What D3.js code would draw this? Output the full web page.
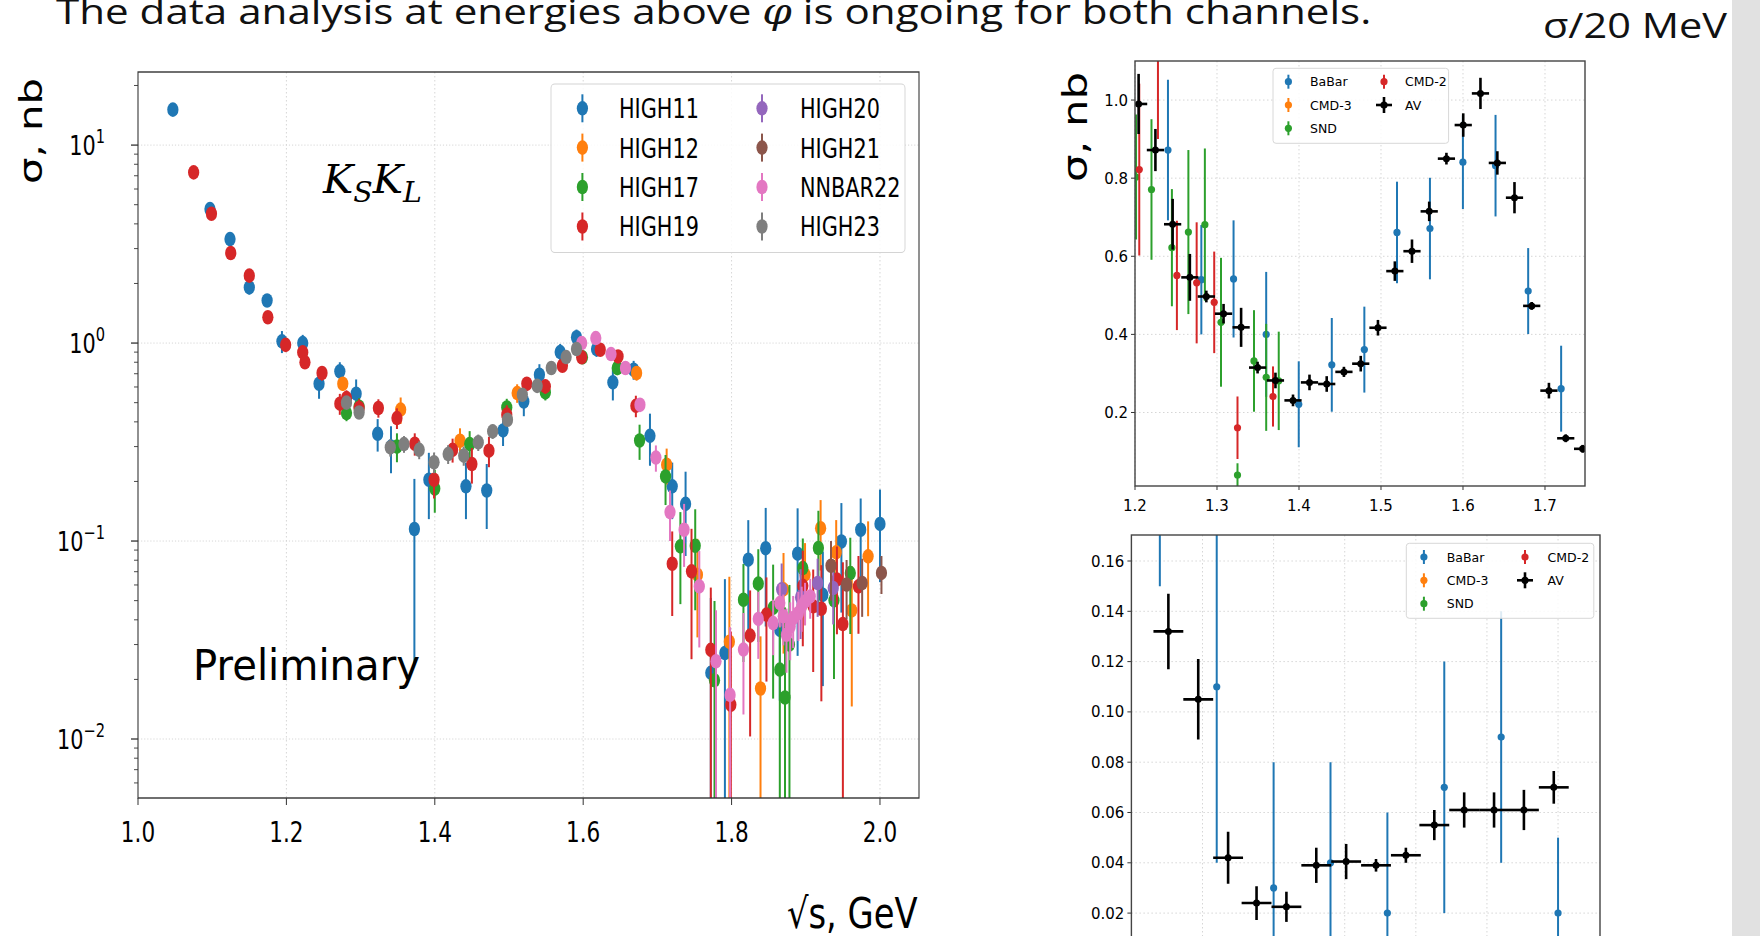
<!DOCTYPE html>
<html>
<head>
<meta charset="utf-8">
<script src="https://d3js.org/d3.v7.min.js"></script>
<style>
  body { margin: 0; background: #fff; }
  svg { display: block; font-family: "DejaVu Sans", sans-serif; }
</style>
</head>
<body>
<script>
// ---------- data: [sqrt(s) GeV, sigma nb, error] ----------
var high11 = [[1.047,15.1,0.4],[1.097,4.75,0.15],[1.124,3.35,0.12],[1.150,1.91,0.15],[1.174,1.64,0.1],
  [1.194,1.02,0.13],[1.222,1.0,0.1],[1.244,0.623,0.1],[1.272,0.72,0.08],[1.294,0.555,0.1],[1.323,0.348,0.065],
  [1.341,0.30,0.08],[1.3725,0.115,0.091],[1.392,0.204,0.075],[1.442,0.189,0.06],[1.470,0.18,0.065],
  [1.492,0.362,0.06],[1.520,0.507,0.08],[1.541,0.692,0.09],[1.569,0.90,0.09],[1.591,1.07,0.1],
  [1.618,0.932,0.08],[1.640,0.633,0.12],[1.668,0.733,0.08],[1.690,0.34,0.1],[1.720,0.189,0.06],
  [1.738,0.154,0.07],[1.772,0.0216,0.03],[1.791,0.0272,0.037],[1.8225,0.0805,0.047],[1.846,0.092,0.055],
  [1.865,0.0356,0.02],[1.889,0.0863,0.06],[1.923,0.0535,0.035],[1.948,0.0995,0.056],[1.974,0.114,0.05],
  [2.0,0.122,0.06]];
var high12 = [[1.276,0.623,0.05],[1.354,0.461,0.07],[1.434,0.321,0.05],[1.511,0.559,0.06],[1.672,0.706,0.06],
  [1.7125,0.243,0.05],[1.754,0.0676,0.035],[1.797,0.031,0.035],[1.839,0.018,0.015],[1.870,0.057,0.03],
  [1.899,0.0676,0.03],[1.920,0.116,0.045],[1.941,0.0876,0.04],[1.962,0.0446,0.03],[1.984,0.0837,0.042]];
var high17 = [[1.281,0.443,0.04],[1.298,0.477,0.05],[1.349,0.30,0.05],[1.400,0.184,0.045],[1.447,0.309,0.05],
  [1.497,0.473,0.05],[1.549,0.563,0.05],[1.599,0.848,0.06],[1.646,0.748,0.06],[1.676,0.322,0.065],
  [1.711,0.212,0.06],[1.731,0.094,0.046],[1.751,0.0947,0.05],[1.777,0.0198,0.03],[1.816,0.0505,0.026],
  [1.836,0.0609,0.03],[1.856,0.046,0.03],[1.865,0.0224,0.03],[1.872,0.0162,0.03],[1.878,0.03,0.03],
  [1.896,0.073,0.03],[1.917,0.0922,0.05],[1.938,0.0501,0.03],[1.960,0.0689,0.035]];
var high19 = [[1.075,7.28,0.2],[1.099,4.50,0.15],[1.125,2.85,0.1],[1.150,2.19,0.08],[1.175,1.35,0.07],
  [1.199,0.98,0.08],[1.222,0.897,0.06],[1.225,0.80,0.06],[1.248,0.706,0.06],[1.272,0.494,0.06],
  [1.281,0.527,0.05],[1.298,0.47,0.05],[1.324,0.47,0.05],[1.349,0.418,0.05],[1.373,0.31,0.04],
  [1.399,0.204,0.04],[1.424,0.289,0.04],[1.450,0.245,0.05],[1.473,0.286,0.05],[1.497,0.435,0.05],
  [1.524,0.623,0.05],[1.549,0.604,0.05],[1.572,0.768,0.05],[1.598,0.848,0.06],[1.623,0.925,0.06],
  [1.647,0.856,0.06],[1.671,0.482,0.06],[1.720,0.0768,0.035],[1.746,0.0703,0.045],[1.772,0.0282,0.03],
  [1.799,0.0149,0.02],[1.825,0.0333,0.023],[1.847,0.0425,0.023],[1.896,0.0594,0.03],[1.910,0.0468,0.025],
  [1.921,0.0455,0.03],[1.942,0.0638,0.03],[1.950,0.0381,0.04],[1.971,0.059,0.025]];
var high20 = [[1.8675,0.057,0.02],[1.893,0.052,0.02],[1.916,0.0614,0.02],[1.937,0.0579,0.02]];
var high21 = [[1.934,0.075,0.025],[1.955,0.0602,0.02],[1.976,0.0614,0.02],[2.002,0.069,0.015]];
var nnbar22 = [[1.598,1.0,0.05],[1.617,1.06,0.05],[1.6375,0.88,0.05],[1.657,0.748,0.05],[1.6765,0.488,0.04],
  [1.698,0.264,0.04],[1.717,0.14,0.04],[1.736,0.114,0.04],[1.7565,0.059,0.03],[1.779,0.0247,0.02],
  [1.798,0.0167,0.02],[1.816,0.0283,0.015],[1.836,0.0404,0.015],[1.856,0.0385,0.012],[1.865,0.0486,0.012],
  [1.8697,0.0417,0.012],[1.874,0.0336,0.012],[1.879,0.037,0.012],[1.883,0.0408,0.012],[1.890,0.0433,0.012],
  [1.8945,0.0468,0.012],[1.899,0.0495,0.012],[1.906,0.0525,0.012]];
var high23 = [[1.281,0.50,0.03],[1.298,0.446,0.03],[1.340,0.297,0.03],[1.3585,0.309,0.03],[1.379,0.289,0.03],
  [1.399,0.25,0.03],[1.418,0.275,0.03],[1.439,0.27,0.03],[1.4586,0.315,0.03],[1.478,0.358,0.03],
  [1.498,0.41,0.03],[1.518,0.548,0.04],[1.538,0.608,0.04],[1.557,0.748,0.04],[1.577,0.85,0.04],
  [1.591,0.933,0.04]];

var seriesNames  = ["HIGH11","HIGH12","HIGH17","HIGH19","HIGH20","HIGH21","NNBAR22","HIGH23"];
var seriesColors = ["#1f77b4","#ff7f0e","#2ca02c","#d62728","#9467bd","#8c564b","#e377c2","#7f7f7f"];
var seriesData   = [high11, high12, high17, high19, high20, high21, nnbar22, high23];

// right charts (20 MeV averaging)
var babarTop = [[1.2402,0.872,0.18],[1.2809,0.54,0.14],[1.3202,0.542,0.15],[1.36,0.40,0.16],[1.3997,0.221,0.11],
  [1.44,0.322,0.12],[1.4797,0.361,0.11],[1.5195,0.661,0.13],[1.5597,0.671,0.13],[1.5999,0.841,0.12],
  [1.6397,0.832,0.13],[1.6795,0.511,0.11],[1.7197,0.261,0.11]];
var cmd3Top = [];
var sndTop = [[1.2013,0.803,0.16],[1.2201,0.771,0.18],[1.245,0.622,0.15],[1.2651,0.662,0.21],[1.2852,0.681,0.195],
  [1.3049,0.431,0.165],[1.325,0.04,0.03],[1.3451,0.332,0.13],[1.36,0.29,0.137],[1.3753,0.281,0.126]];
var cmd2Top = [[1.2052,0.822,0.22],[1.228,1.25,0.35],[1.2511,0.551,0.14],[1.2752,0.532,0.155],[1.2966,0.482,0.13],
  [1.325,0.161,0.08],[1.3683,0.241,0.077]];
var avTop = [[1.2044,0.990,0.077],[1.2249,0.872,0.054],[1.2459,0.682,0.065],[1.2669,0.546,0.06],[1.287,0.497,0.015],
  [1.308,0.453,0.025],[1.3294,0.418,0.05],[1.3495,0.315,0.015],[1.3713,0.282,0.02],[1.3927,0.231,0.015],
  [1.4128,0.277,0.02],[1.4338,0.273,0.02],[1.4548,0.304,0.013],[1.4753,0.325,0.02],[1.4963,0.417,0.02],
  [1.5169,0.562,0.025],[1.5378,0.613,0.03],[1.5588,0.715,0.025],[1.5798,0.85,0.015],[1.6003,0.936,0.03],
  [1.6213,1.017,0.04],[1.6419,0.839,0.03],[1.6628,0.75,0.04],[1.6838,0.473,0.01],[1.7048,0.256,0.02],
  [1.7253,0.134,0.01],[1.7459,0.107,0.01]];

var babarBot = [[1.770,0.19,0.04],[1.810,0.11,0.07],[1.850,0.03,0.05],[1.890,0.04,0.04],[1.930,0.02,0.04],
  [1.970,0.07,0.05],[2.010,0.09,0.05],[2.050,0.02,0.03]];
var avBot = [[1.776,0.132,0.015],[1.797,0.105,0.016],[1.818,0.042,0.0103],[1.838,0.024,0.0067],[1.859,0.0225,0.006],
  [1.880,0.039,0.007],[1.901,0.0405,0.007],[1.922,0.039,0.0025],[1.943,0.043,0.003],[1.963,0.055,0.006],
  [1.984,0.061,0.007],[2.005,0.061,0.007],[2.026,0.061,0.008],[2.047,0.070,0.0065]];
var avHalfBin = 0.0105;

var rightNames  = ["BaBar","CMD-3","SND","CMD-2","AV"];
var rightColors = ["#1f77b4","#ff7f0e","#2ca02c","#d62728","#000000"];

var leftXTicks = [1.0,1.2,1.4,1.6,1.8,2.0];
var leftDecades = [-2,-1,0,1];
var topXTicks = [1.2,1.3,1.4,1.5,1.6,1.7];
var topYTicks = [0.2,0.4,0.6,0.8,1.0];
var botXTicks = [1.80,1.85,1.90,1.95,2.00,2.05];
var botYTicks = [0.02,0.04,0.06,0.08,0.10,0.12,0.14,0.16];

// ---------- setup ----------
var W = 1760, H = 936;
var svg = d3.select("body").append("svg").attr("width", W).attr("height", H);
var defs = svg.append("defs");

function fitWidth(t, w) {
  var b = t.node().getBBox(), k = w / b.width;
  t.attr("transform", "translate(" + b.x + ",0) scale(" + k + ",1) translate(" + (-b.x) + ",0)");
}

function clip(id, x, y, w, h) {
  defs.append("clipPath").attr("id", id).append("rect").attr("x", x).attr("y", y).attr("width", w).attr("height", h);
  return "url(#" + id + ")";
}

function errSeries(g, data, color, x, y, r, sw, yMin, yMax, xerr) {
  var s = g.append("g");
  if (xerr) {
    s.selectAll("line.h").data(data).enter().append("line").attr("class", "h")
      .attr("x1", function(d){ return x(d[0] - xerr); }).attr("x2", function(d){ return x(d[0] + xerr); })
      .attr("y1", function(d){ return y(d[1]); }).attr("y2", function(d){ return y(d[1]); })
      .attr("stroke", color).attr("stroke-width", sw);
  }
  s.selectAll("line.v").data(data).enter().append("line").attr("class", "v")
    .attr("x1", function(d){ return x(d[0]); }).attr("x2", function(d){ return x(d[0]); })
    .attr("y1", function(d){ return y(Math.min(d[1] + d[2], yMax)); })
    .attr("y2", function(d){ return y(Math.max(d[1] - d[2], yMin)); })
    .attr("stroke", color).attr("stroke-width", sw);
  s.selectAll("circle").data(data).enter().append("circle")
    .attr("cx", function(d){ return x(d[0]); }).attr("cy", function(d){ return y(d[1]); })
    .attr("r", r).attr("fill", color);
}

// ---------- slide text ----------
var title = svg.append("text").attr("x", 56).attr("y", 24)
  .style("font-family", "'Open Sans', sans-serif").style("font-size", "35px").attr("fill", "#111");
title.append("tspan").text("The data analysis at energies above ");
title.append("tspan").style("font-family", "'DejaVu Serif', serif").style("font-style", "italic").text("φ");
title.append("tspan").text(" is ongoing for both channels.");
fitWidth(title, 1316);

var perBin = svg.append("text").attr("x", 1543).attr("y", 38)
  .style("font-family", "'Open Sans', sans-serif").style("font-size", "34px").attr("fill", "#111")
  .text("σ/20 MeV");
fitWidth(perBin, 185);

svg.append("rect").attr("x", 1732).attr("y", 0).attr("width", 28).attr("height", H).attr("fill", "#e1e1e1");

// ---------- left chart (log scale, horizontally squeezed) ----------
var sx = 0.77;
var L = {left: 138, right: 919, top: 72, bottom: 798};
var gL = svg.append("g").attr("transform", "scale(" + sx + ",1)");
var xL = d3.scaleLinear().domain([1.0, 2.0526]).range([L.left / sx, L.right / sx]);
var yMinL = 0.005035, yMaxL = 23.4;
var yL = d3.scaleLog().domain([yMinL, yMaxL]).range([L.bottom, L.top]);

var gridL = gL.append("g").attr("stroke", "#d0d0d0").attr("stroke-width", 1).attr("stroke-dasharray", "1.5,2.5");
gridL.selectAll("line.gx").data(leftXTicks.slice(1)).enter().append("line")
  .attr("x1", xL).attr("x2", xL).attr("y1", L.top).attr("y2", L.bottom);
gridL.selectAll("line.gy").data(leftDecades).enter().append("line")
  .attr("x1", L.left / sx).attr("x2", L.right / sx)
  .attr("y1", function(d){ return yL(Math.pow(10, d)); }).attr("y2", function(d){ return yL(Math.pow(10, d)); });

var plotL = gL.append("g").attr("clip-path", clip("clipL", L.left / sx, L.top, (L.right - L.left) / sx, L.bottom - L.top));
seriesData.forEach(function(data, i) {
  errSeries(plotL, data, seriesColors[i], xL, yL, 7.3, 2.6, yMinL, yMaxL, 0);
});

gL.append("rect").attr("x", L.left / sx).attr("y", L.top).attr("width", (L.right - L.left) / sx)
  .attr("height", L.bottom - L.top).attr("fill", "none").attr("stroke", "#333").attr("stroke-width", 1.4);

// x ticks
var axL = gL.append("g");
axL.selectAll("line.tx").data(leftXTicks).enter().append("line")
  .attr("x1", xL).attr("x2", xL).attr("y1", L.bottom).attr("y2", L.bottom + 7).attr("stroke", "#333").attr("stroke-width", 1.3);
axL.selectAll("text.tx").data(leftXTicks).enter().append("text")
  .attr("x", xL).attr("y", 842).attr("text-anchor", "middle").style("font-size", "28px")
  .text(d3.format(".1f"));
// y ticks (major + minor)
var minor = [];
[-3,-2,-1,0,1].forEach(function(e){ for (var k = 2; k < 10; k++) { var v = k * Math.pow(10, e); if (v > yMinL && v < yMaxL) minor.push(v); } });
axL.selectAll("line.my").data(minor).enter().append("line")
  .attr("x1", (L.left - 4) / sx).attr("x2", L.left / sx).attr("y1", yL).attr("y2", yL)
  .attr("stroke", "#333").attr("stroke-width", 1);
axL.selectAll("line.ty").data(leftDecades).enter().append("line")
  .attr("x1", (L.left - 7) / sx).attr("x2", L.left / sx)
  .attr("y1", function(d){ return yL(Math.pow(10, d)); }).attr("y2", function(d){ return yL(Math.pow(10, d)); })
  .attr("stroke", "#333").attr("stroke-width", 1.3);
var yLab = axL.selectAll("text.ty").data(leftDecades).enter().append("text")
  .attr("x", 105 / sx).attr("y", function(d){ return yL(Math.pow(10, d)) + 10; })
  .attr("text-anchor", "end").style("font-size", "27px");
yLab.append("tspan").text("10");
yLab.append("tspan").attr("dy", -12).style("font-size", "19px")
  .text(function(d){ return d < 0 ? "\u2212" + (-d) : String(d); });

// legend
var legL = gL.append("g");
legL.append("rect").attr("x", 551 / sx).attr("y", 84).attr("width", (905 - 551) / sx).attr("height", 168.5)
  .attr("rx", 5).attr("ry", 4).attr("fill", "#fff").attr("fill-opacity", 0.85).attr("stroke", "#d4d4d4").attr("stroke-width", 1.2);
var rowsL = [108.3, 147.6, 187, 226.5];
seriesNames.forEach(function(n, i) {
  var col = Math.floor(i / 4), row = i % 4;
  var mx = (col ? 762 : 582.4) / sx, tx = (col ? 800 : 619) / sx, yy = rowsL[row];
  legL.append("line").attr("x1", mx).attr("x2", mx).attr("y1", yy - 14).attr("y2", yy + 14)
    .attr("stroke", seriesColors[i]).attr("stroke-width", 2.6);
  legL.append("circle").attr("cx", mx).attr("cy", yy).attr("r", 7.3).attr("fill", seriesColors[i]);
  legL.append("text").attr("x", tx).attr("y", yy + 10).style("font-size", "27px").text(n);
});

var prelim = gL.append("text").attr("x", 193 / sx).attr("y", 680).style("font-size", "43px").text("Preliminary");
fitWidth(prelim, 227 / sx);
var xTitle = gL.append("text").attr("x", 787 / sx).attr("y", 928).style("font-size", "42px").text("√s, GeV");
fitWidth(xTitle, 131 / sx);

var kk = svg.append("text").attr("x", 323).attr("y", 193)
  .style("font-family", "'DejaVu Serif', serif").style("font-style", "italic").style("font-size", "40px");
kk.append("tspan").text("K");
kk.append("tspan").attr("dy", 9).style("font-size", "28px").text("S");
kk.append("tspan").attr("dy", -9).text("K");
kk.append("tspan").attr("dy", 9).style("font-size", "28px").text("L");
fitWidth(kk, 100);

svg.append("text").attr("transform", "translate(42,131) rotate(-90)").attr("text-anchor", "middle")
  .style("font-size", "32px").attr("textLength", 106).attr("lengthAdjust", "spacingAndGlyphs").text("σ, nb");

// ---------- right charts ----------
function rightFrame(R, x, y, xt, yt, id, xFmt, yFmt, showX) {
  var g = svg.append("g");
  var grid = g.append("g").attr("stroke", "#d6d6d6").attr("stroke-width", 1).attr("stroke-dasharray", "1.5,2.5");
  grid.selectAll("line.gx").data(xt).enter().append("line").attr("x1", x).attr("x2", x).attr("y1", R.top).attr("y2", R.bottom);
  grid.selectAll("line.gy").data(yt).enter().append("line").attr("x1", R.left).attr("x2", R.right).attr("y1", y).attr("y2", y);
  g.selectAll("line.ty").data(yt).enter().append("line").attr("x1", R.left - 4).attr("x2", R.left)
    .attr("y1", y).attr("y2", y).attr("stroke", "#333");
  g.selectAll("text.ty").data(yt).enter().append("text").attr("x", R.left - 7).attr("y", function(d){ return y(d) + 5.5; })
    .attr("text-anchor", "end").style("font-size", "15px").text(yFmt);
  g.selectAll("line.tx").data(xt).enter().append("line").attr("x1", x).attr("x2", x)
    .attr("y1", R.bottom).attr("y2", R.bottom + 4).attr("stroke", "#333");
  if (showX) g.selectAll("text.tx").data(xt).enter().append("text").attr("x", x).attr("y", R.bottom + 25)
    .attr("text-anchor", "middle").style("font-size", "15px").text(xFmt);
  var plot = g.append("g").attr("clip-path", clip(id, R.left, R.top, R.right - R.left, R.bottom - R.top));
  return {g: g, plot: plot};
}

function rightLegend(box, mx, tx, rows) {
  var g = svg.append("g");
  g.append("rect").attr("x", box[0]).attr("y", box[1]).attr("width", box[2]).attr("height", box[3])
    .attr("rx", 3).attr("fill", "#fff").attr("fill-opacity", 0.85).attr("stroke", "#d8d8d8");
  rightNames.forEach(function(n, i) {
    var col = i < 3 ? 0 : 1, row = i < 3 ? i : i - 3, yy = rows[row], xx = mx[col];
    var c = rightColors[i], av = n === "AV";
    g.append("line").attr("x1", xx).attr("x2", xx).attr("y1", yy - (av ? 8 : 7)).attr("y2", yy + (av ? 8 : 7))
      .attr("stroke", c).attr("stroke-width", av ? 2.6 : 2);
    if (av) g.append("line").attr("x1", xx - 8).attr("x2", xx + 8).attr("y1", yy).attr("y2", yy)
      .attr("stroke", c).attr("stroke-width", 2.6);
    g.append("circle").attr("cx", xx).attr("cy", yy).attr("r", 3.6).attr("fill", c);
    g.append("text").attr("x", tx[col]).attr("y", yy + 4.5).style("font-size", "12.5px").text(n);
  });
}

// top right
var R1 = {left: 1135, right: 1585, top: 61, bottom: 486};
var x1 = d3.scaleLinear().domain([1.2, 1.7488]).range([R1.left, R1.right]);
var y1 = d3.scaleLinear().domain([0.0118, 1.1]).range([R1.bottom, R1.top]);
var f1 = rightFrame(R1, x1, y1, topXTicks, topYTicks, "clipR1", d3.format(".1f"), d3.format(".1f"), true);
errSeries(f1.plot, babarTop, rightColors[0], x1, y1, 3.6, 2, -1, 5, 0);
errSeries(f1.plot, cmd3Top, rightColors[1], x1, y1, 3.6, 2, -1, 5, 0);
errSeries(f1.plot, sndTop, rightColors[2], x1, y1, 3.6, 2, -1, 5, 0);
errSeries(f1.plot, cmd2Top, rightColors[3], x1, y1, 3.6, 2, -1, 5, 0);
errSeries(f1.plot, avTop, rightColors[4], x1, y1, 3.5, 2.6, -1, 5, avHalfBin);
f1.g.append("rect").attr("x", R1.left).attr("y", R1.top).attr("width", R1.right - R1.left).attr("height", R1.bottom - R1.top)
  .attr("fill", "none").attr("stroke", "#444").attr("stroke-width", 1.4);
rightLegend([1273, 68.3, 175.6, 75], [1288.4, 1384], [1310, 1405], [81.7, 105, 128.3]);
svg.append("text").attr("transform", "translate(1087,127) rotate(-90)").attr("text-anchor", "middle")
  .style("font-size", "34px").attr("textLength", 110).attr("lengthAdjust", "spacingAndGlyphs").text("σ, nb");

// bottom right
var R2 = {left: 1131.4, right: 1600, top: 535, bottom: 985};
var x2 = d3.scaleLinear().domain([1.75, 2.0795]).range([R2.left, R2.right]);
var y2 = d3.scaleLinear().domain([-0.00859, 0.17034]).range([R2.bottom, R2.top]);
var f2 = rightFrame(R2, x2, y2, botXTicks, botYTicks, "clipR2", d3.format(".2f"), d3.format(".2f"), false);
errSeries(f2.plot, babarBot, rightColors[0], x2, y2, 3.6, 2, -1, 5, 0);
errSeries(f2.plot, avBot, rightColors[4], x2, y2, 3.5, 2.6, -1, 5, avHalfBin);
f2.g.append("rect").attr("x", R2.left).attr("y", R2.top).attr("width", R2.right - R2.left).attr("height", R2.bottom - R2.top)
  .attr("fill", "none").attr("stroke", "#444").attr("stroke-width", 1.4);
rightLegend([1406.3, 543.3, 187.5, 75], [1423.9, 1525], [1446.8, 1547.5], [557, 580.3, 603.7]);
</script>
</body>
</html>
